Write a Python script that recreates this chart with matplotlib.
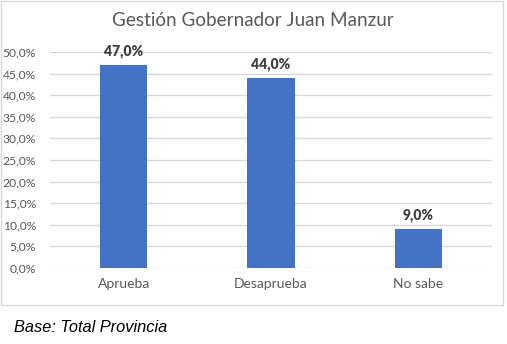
import matplotlib
matplotlib.use("Agg")
import matplotlib.pyplot as plt
from matplotlib.patches import Rectangle

categories = ["Aprueba", "Desaprueba", "No sabe"]
values = [47.0, 44.0, 9.0]
yticks = [0, 5, 10, 15, 20, 25, 30, 35, 40, 45, 50]
ytick_labels = [f"{v:.1f}%".replace(".", ",") for v in yticks]
title = "Gestión Gobernador Juan Manzur"
footnote = "Base: Total Provincia"

W, H = 507, 344
fig = plt.figure(figsize=(W / 100, H / 100), dpi=100)
fig.patch.set_facecolor("white")

# chart frame
fig.patches.append(Rectangle((1 / W, 1 - 305 / H), 502 / W, 304 / H,
                             transform=fig.transFigure, fill=False,
                             edgecolor="#D9D9D9", linewidth=1.0))

ax = fig.add_axes([50 / W, 1 - 268 / H, 442 / W, 216 / H])
x = range(len(categories))
bars = ax.bar(x, values, width=0.32, color="#4472C4", zorder=3)
ax.set_xlim(-0.5, len(categories) - 0.5)
ax.set_ylim(0, 50)
ax.set_yticks(yticks)
ax.set_yticklabels(ytick_labels, fontfamily="Lato", fontsize=8.7, color="#595959")
ax.set_xticks(list(x))
ax.set_xticklabels(categories, fontfamily="Lato", fontsize=10, color="#595959")
ax.tick_params(axis="both", length=0)
ax.tick_params(axis="y", pad=10)
ax.tick_params(axis="x", pad=7)
ax.grid(axis="y", color="#D9D9D9", linewidth=1.0, zorder=0)
for s in ax.spines.values():
    s.set_visible(False)

for b, v in zip(bars, values):
    ax.annotate(f"{v:.1f}%".replace(".", ","), (b.get_x() + b.get_width() / 2, v),
                xytext=(0, 5), textcoords="offset points", ha="center", va="bottom",
                fontfamily="Lato", fontweight="heavy", fontsize=10, color="#404040")

fig.text(253 / W, 1 - 20 / H, title, ha="center", va="center",
         fontfamily="Lato", fontsize=13.6, color="#595959")
fig.text(14 / W, 1 - 327 / H, footnote, ha="left", va="center",
         fontfamily="Liberation Sans", fontstyle="italic", fontsize=11.8, color="black")

fig.savefig("out.png", dpi=100)
